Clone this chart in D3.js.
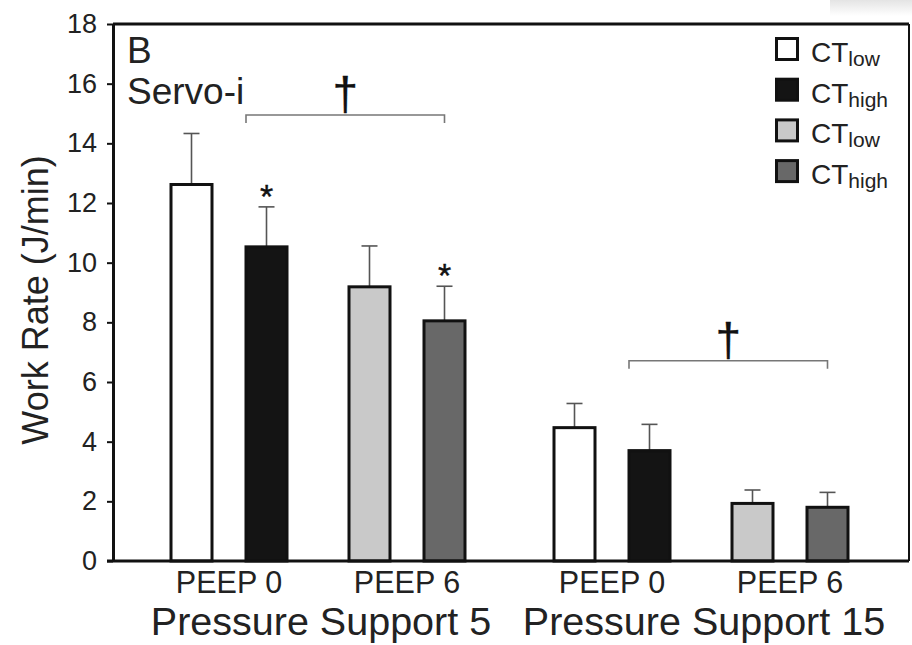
<!DOCTYPE html>
<html>
<head>
<meta charset="utf-8">
<script src="https://cdn.jsdelivr.net/npm/d3@7/dist/d3.min.js"></script>
<style>
  html, body { margin: 0; padding: 0; background: #fff; }
  svg { display: block; font-family: "Liberation Sans", Arial, Helvetica, sans-serif; }
</style>
</head>
<body>
<svg id="chart" width="912" height="645"></svg>
<script>
// Work rate on the Servo-i ventilator, by pressure support, PEEP and CT level
const pressureSupport = ["Pressure Support 5", "Pressure Support 15"];
const peepLevels = ["PEEP 0", "PEEP 6"];
const ctLevels = ["low", "high"];

// Means and SDs (J/min), ordered PS5: PEEP0 low/high, PEEP6 low/high; then PS15 likewise
const means = [12.62, 10.53, 9.19, 8.05, 4.47, 3.70, 1.93, 1.80];
const sds   = [1.71, 1.34, 1.37, 1.16, 0.81, 0.88, 0.45, 0.50];

// Significance markers: asterisks on individual bars, daggers over bracketed spans
const starBars = [1, 3];
const brackets = [
  { ps: 0, fromBar: 1, toBar: 3, level: 14.95, label: "\u2020" },
  { ps: 1, fromBar: 1, toBar: 3, level: 6.71, label: "\u2020" }
];

const yTicks = [0, 2, 4, 6, 8, 10, 12, 14, 16, 18];
const fills = ["#ffffff", "#141414", "#c9c9c9", "#686868"];
const legendEntries = [
  { ct: "low", fill: fills[0] },
  { ct: "high", fill: fills[1] },
  { ct: "low", fill: fills[2] },
  { ct: "high", fill: fills[3] }
];

const svg = d3.select("#chart");
const plot = { left: 113, right: 909, top: 24, bottom: 561 };

// Top-right corner shading
const defs = svg.append("defs");
const grad = defs.append("linearGradient").attr("id", "corner")
  .attr("x1", "0").attr("y1", "0").attr("x2", "0").attr("y2", "1");
grad.append("stop").attr("offset", "0").attr("stop-color", "#e4e4e4");
grad.append("stop").attr("offset", "1").attr("stop-color", "#ffffff");
svg.append("rect").attr("x", 830).attr("y", 0).attr("width", 82).attr("height", 16)
  .attr("fill", "url(#corner)");

const y = d3.scaleLinear().domain([0, 18]).range([plot.bottom, plot.top]);

// Nested band scales: pressure support -> PEEP -> CT level
const xPS = d3.scaleBand().domain(pressureSupport).range([126.5, 892.5]).padding(0);
const xPeep = d3.scaleBand().domain(peepLevels).range([13.5, 369.5]).padding(0);
const xCT = d3.scaleBand().domain(ctLevels).range([14, 164]).padding(0);
const barW = 41;

const bars = means.map((m, i) => {
  const ps = pressureSupport[Math.floor(i / 4)];
  const peep = peepLevels[Math.floor(i / 2) % 2];
  const ct = ctLevels[i % 2];
  const cx = xPS(ps) + xPeep(peep) + xCT(ct) + xCT.bandwidth() / 2;
  return { i, ps, peep, ct, mean: m, sd: sds[i], cx, fill: fills[i % 4] };
});

// Frame: top and right border lines
svg.append("line").attr("x1", plot.left).attr("x2", plot.right)
  .attr("y1", plot.top).attr("y2", plot.top)
  .attr("stroke", "#111").attr("stroke-width", 3);
svg.append("line").attr("x1", plot.right).attr("x2", plot.right)
  .attr("y1", plot.top).attr("y2", plot.bottom)
  .attr("stroke", "#111").attr("stroke-width", 2);

// Error bars (upper only)
const err = svg.append("g").attr("stroke", "#555").attr("stroke-width", 1.6);
err.selectAll("line.v").data(bars).join("line").attr("class", "v")
  .attr("x1", d => d.cx).attr("x2", d => d.cx)
  .attr("y1", d => y(d.mean)).attr("y2", d => y(d.mean + d.sd));
err.selectAll("line.c").data(bars).join("line").attr("class", "c")
  .attr("x1", d => d.cx - 8).attr("x2", d => d.cx + 8)
  .attr("y1", d => y(d.mean + d.sd)).attr("y2", d => y(d.mean + d.sd));

// Bars
svg.append("g").selectAll("rect").data(bars).join("rect")
  .attr("x", d => d.cx - barW / 2)
  .attr("y", d => y(d.mean))
  .attr("width", barW)
  .attr("height", d => y(0) - y(d.mean))
  .attr("fill", d => d.fill)
  .attr("stroke", "#111")
  .attr("stroke-width", 3);

// Asterisks
svg.append("g").selectAll("text").data(bars.filter(d => starBars.includes(d.i)))
  .join("text")
  .attr("x", d => d.cx).attr("y", d => y(d.mean + d.sd) + 1)
  .attr("text-anchor", "middle").attr("font-size", 34).attr("fill", "#111")
  .attr("stroke", "#111").attr("stroke-width", 0.4)
  .text("*");

// Brackets with daggers
const br = svg.append("g");
brackets.forEach(b => {
  const group = bars.filter(d => d.ps === pressureSupport[b.ps]);
  const x1 = group[b.fromBar].cx - barW / 2;
  const x2 = group[b.toBar].cx;
  const yy = y(b.level);
  br.append("path")
    .attr("d", `M${x1},${yy + 8}V${yy}H${x2}V${yy + 8}`)
    .attr("fill", "none").attr("stroke", "#777").attr("stroke-width", 1.6);
  br.append("text").attr("x", (x1 + x2) / 2).attr("y", yy - 5)
    .attr("text-anchor", "middle").attr("font-size", 46).attr("fill", "#111")
    .attr("stroke", "#111").attr("stroke-width", 0.3)
    .text(b.label);
});

// Y axis
const yAxis = svg.append("g").attr("transform", `translate(${plot.left},0)`)
  .call(d3.axisLeft(y).tickValues(yTicks).tickSize(6).tickSizeOuter(0).tickPadding(10));
yAxis.select(".domain").attr("stroke", "#111").attr("stroke-width", 3);
yAxis.selectAll(".tick line").attr("stroke", "#111").attr("stroke-width", 2);
yAxis.selectAll(".tick text").attr("font-size", 27).attr("fill", "#222")
  .attr("font-family", "Liberation Sans, Arial, sans-serif");

// Baseline (x axis)
svg.append("line").attr("x1", plot.left - 6).attr("x2", plot.right)
  .attr("y1", y(0)).attr("y2", y(0))
  .attr("stroke", "#111").attr("stroke-width", 3);

// Category labels
const peepCenters = [];
pressureSupport.forEach(ps => peepLevels.forEach(p => {
  peepCenters.push({ label: p, x: xPS(ps) + xPeep(p) + xPeep.bandwidth() / 2 });
}));
svg.append("g").selectAll("text").data(peepCenters).join("text")
  .attr("x", d => d.x).attr("y", 593)
  .attr("text-anchor", "middle").attr("font-size", 30.5).attr("fill", "#222")
  .text(d => d.label);
svg.append("g").selectAll("text").data(pressureSupport).join("text")
  .attr("x", d => xPS(d) + xPS.bandwidth() / 2 + 3).attr("y", 635)
  .attr("text-anchor", "middle").attr("font-size", 39.5).attr("fill", "#222")
  .text(d => d);

// Axis title
svg.append("text")
  .attr("transform", "translate(48,300) rotate(-90)")
  .attr("text-anchor", "middle").attr("font-size", 36).attr("fill", "#222")
  .text("Work Rate (J/min)");

// Panel label
svg.append("text").attr("x", 127).attr("y", 63).attr("font-size", 37).attr("fill", "#222").text("B");
svg.append("text").attr("x", 127).attr("y", 104).attr("font-size", 37).attr("fill", "#222").text("Servo-i");

// Legend
const lg = svg.append("g").attr("transform", "translate(775,37)");
const rows = lg.selectAll("g").data(legendEntries).join("g")
  .attr("transform", (d, i) => `translate(0,${i * 40.7})`);
rows.append("rect").attr("x", 1.5).attr("y", 1.5).attr("width", 21).attr("height", 21)
  .attr("fill", d => d.fill).attr("stroke", "#111").attr("stroke-width", 3);
const lt = rows.append("text").attr("x", 36).attr("y", 25).attr("font-size", 28).attr("fill", "#222");
lt.append("tspan").text("CT");
lt.append("tspan").attr("dy", 4).attr("font-size", 21).text(d => d.ct);
</script>
</body>
</html>
